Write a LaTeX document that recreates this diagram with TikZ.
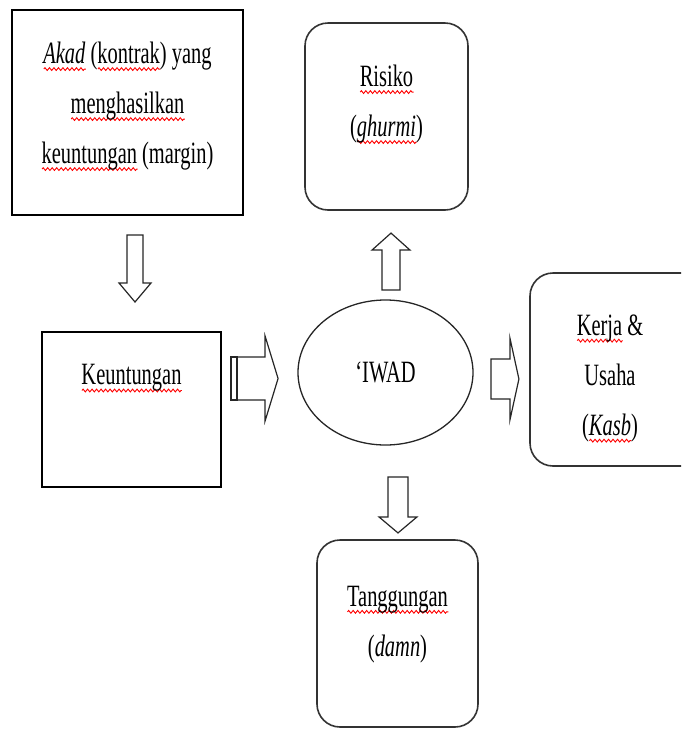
\documentclass[tikz,border=0pt]{standalone}
\usepackage{fontspec}
\setmainfont[FakeStretch=0.66]{Liberation Serif}
\usepackage{tikz}
\usetikzlibrary{arrows,shapes,calc,decorations.pathmorphing}

% red wavy line under a word
\newlength{\spellwd}
\newcommand{\spell}[1]{\settowidth{\spellwd}{#1}%
  \rlap{\tikz[baseline=0pt]\draw[red,line width=0.9pt,decorate,
    decoration={zigzag,amplitude=1.4pt,segment length=4.5pt}] (0pt,-5.5pt) -- (\spellwd,-5.5pt);}#1}

% hollow block arrow: centre, angle, length, shaft, head, head length
\newcommand{\blockarrow}[6]{%
  \begin{scope}[shift={(#1)},rotate=#2]
    \draw[fat arrow] ({-0.5*#3pt},{-0.5*#4pt}) -- ({0.5*#3pt-#6pt},{-0.5*#4pt})
      -- ({0.5*#3pt-#6pt},{-0.5*#5pt}) -- ({0.5*#3pt},0pt) -- ({0.5*#3pt-#6pt},{0.5*#5pt})
      -- ({0.5*#3pt-#6pt},{0.5*#4pt}) -- ({-0.5*#3pt},{0.5*#4pt}) -- cycle;
  \end{scope}}

\begin{document}
\begin{tikzpicture}[x=1pt,y=-1pt,font=\fontsize{31}{50}\selectfont]
  \tikzstyle{box}=[rectangle,draw=black,line width=1.6pt,align=center]
  \tikzstyle{round box}=[box,draw=black!80,rounded corners=23pt]
  \tikzstyle{fat arrow}=[draw=black!85,line width=1.2pt,fill=white,line join=miter]
  \tikzstyle{every label}=[align=center]

  \clip (0,0) rectangle (681,729);

  \node [box,minimum width=231pt,minimum height=205pt,
         label={[yshift=6pt]center:{\spell{\textit{Akad}} (\spell{kontrak}) yang\\
                \spell{menghasilkan}\\ \spell{keuntungan} (margin)}}] (akad) at (127.5,112.5) {};
  \node [box,minimum width=179pt,minimum height=155pt,
         label={[yshift=31pt]center:{\spell{Keuntungan}}}] (untung) at (131.5,409.5) {};
  \node [ellipse,draw=black!85,line width=1.3pt,minimum width=175pt,minimum height=145pt]
    (iwad) at (385.5,372.5) {‘IWAD};
  \node [round box,minimum width=163pt,minimum height=187pt,
         label={[yshift=12pt]center:{\spell{Risiko}\\(\spell{\textit{ghurmi}})}}] (risiko) at (386.5,116.5) {};
  \node [round box,minimum width=175pt,minimum height=193pt,
         label={[xshift=-7.5pt,yshift=-9pt]center:{\spell{Kerja} \&\\Usaha\\(\spell{\textit{Kasb}})}}] (kerja) at (617.5,369.5) {};
  \node [round box,minimum width=161pt,minimum height=187pt,
         label={[yshift=9pt]center:{\spell{Tanggungan}\\(\textit{damn})}}] (tang) at (397.5,633.5) {};

  % block arrows
  \coordinate (a1) at ($(akad.south)!0.5!(untung.north)+(5.5,-5)$);
  \coordinate (a2) at ($(untung.east |- iwad.west)!0.5!(iwad.west)+(-2,6)$);
  \coordinate (a3) at ($(iwad.north)!0.5!(risiko.south)+(5,6.5)$);
  \coordinate (a4) at ($(iwad.east)!0.5!(kerja.west |- iwad.east)+(3.5,6.5)$);
  \coordinate (a5) at ($(iwad.south)!0.5!(tang.north)+(6.5,12.5)$);
  \blockarrow{a1}{-90}{67}{16}{32}{19}
  \blockarrow{a2}{0}{41}{43}{85}{13}
  \draw[fat arrow] ($(a2)+(-26.5,-21.5)$) rectangle ($(a2)+(-20.5,21.5)$);
  \blockarrow{a3}{90}{57}{18}{38}{17}
  \blockarrow{a4}{0}{28}{40}{82}{9}
  \blockarrow{a5}{-90}{56}{20}{38}{16}
\end{tikzpicture}
\end{document}
